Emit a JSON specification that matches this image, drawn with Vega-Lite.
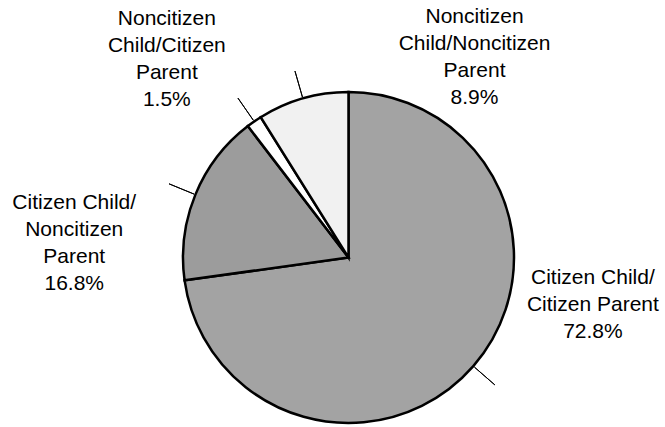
{
  "$schema": "https://vega.github.io/schema/vega-lite/v6.json",
  "width": 633,
  "height": 339,
  "autosize": {"type": "none"},
  "padding": {"left": 32, "top": 88, "right": 0, "bottom": 0},
  "background": "white",
  "config": {"view": {"stroke": null}, "text": {"font": "Liberation Sans", "fontSize": 21, "lineHeight": 27, "fill": "black"}},
  "data": {
    "values": [
      {"group": "Citizen Child/Citizen Parent", "label": "Citizen Child/\nCitizen Parent\n72.8%", "share": 72.8, "order": 1},
      {"group": "Citizen Child/Noncitizen Parent", "label": "Citizen Child/\nNoncitizen\nParent\n16.8%", "share": 16.8, "order": 2},
      {"group": "Noncitizen Child/Citizen Parent", "label": "Noncitizen\nChild/Citizen\nParent\n1.5%", "share": 1.5, "order": 3},
      {"group": "Noncitizen Child/Noncitizen Parent", "label": "Noncitizen\nChild/Noncitizen\nParent\n8.9%", "share": 8.9, "order": 4}
    ]
  },
  "transform": [
    {"stack": "share", "groupby": [], "sort": [{"field": "order"}], "as": ["s0", "s1"]},
    {"calculate": "(datum.s0 + datum.s1) / 2", "as": "mid"}
  ],
  "layer": [
    {
      "mark": {"type": "arc", "radius": 165.5, "stroke": "black", "strokeWidth": 2.5, "strokeJoin": "miter"},
      "encoding": {
        "theta": {"field": "s0", "type": "quantitative", "stack": null, "scale": {"domain": [0, 100]}},
        "theta2": {"field": "s1"},
        "color": {
          "field": "group", "type": "nominal", "legend": null,
          "scale": {
            "domain": ["Citizen Child/Citizen Parent", "Citizen Child/Noncitizen Parent", "Noncitizen Child/Citizen Parent", "Noncitizen Child/Noncitizen Parent"],
            "range": ["#a3a3a3", "#9c9c9c", "#ffffff", "#f1f1f1"]
          }
        }
      }
    },
    {
      "mark": {"type": "arc", "radius": 194, "radius2": 167, "stroke": "black", "strokeWidth": 1, "fill": null},
      "encoding": {
        "theta": {"field": "mid", "type": "quantitative", "stack": null},
        "theta2": {"field": "mid"}
      }
    },
    {
      "transform": [{"filter": "datum.order == 1"}],
      "mark": {"type": "text", "radius": 210, "dx": 86, "dy": -117, "lineBreak": "\n"},
      "encoding": {"theta": {"field": "mid", "type": "quantitative", "stack": null}, "text": {"field": "label"}}
    },
    {
      "transform": [{"filter": "datum.order == 2"}],
      "mark": {"type": "text", "radius": 210, "dx": -80, "dy": 25, "lineBreak": "\n"},
      "encoding": {"theta": {"field": "mid", "type": "quantitative", "stack": null}, "text": {"field": "label"}}
    },
    {
      "transform": [{"filter": "datum.order == 3"}],
      "mark": {"type": "text", "radius": 210, "dx": -62, "dy": -66, "lineBreak": "\n"},
      "encoding": {"theta": {"field": "mid", "type": "quantitative", "stack": null}, "text": {"field": "label"}}
    },
    {
      "transform": [{"filter": "datum.order == 4"}],
      "mark": {"type": "text", "radius": 210, "dx": 184, "dy": -39, "lineBreak": "\n"},
      "encoding": {"theta": {"field": "mid", "type": "quantitative", "stack": null}, "text": {"field": "label"}}
    }
  ]
}
